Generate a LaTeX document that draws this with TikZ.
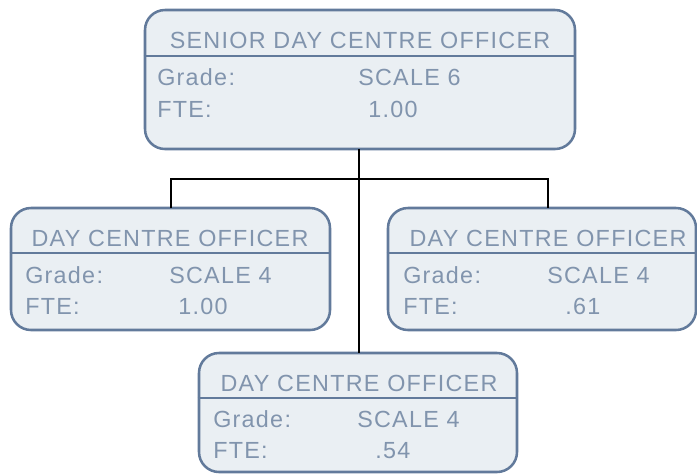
\documentclass[tikz,border=0pt]{standalone}
\usepackage{fontspec}
\usetikzlibrary{fit}
\newfontfamily\boxfont[LetterSpace=5.5]{Liberation Sans}
\definecolor{boxborder}{HTML}{627A9B}
\definecolor{boxfill}{HTML}{EAEFF3}
\definecolor{boxtext}{HTML}{8194AD}
\begin{document}
\begin{tikzpicture}[x=0.75pt,y=-0.75pt,
  box/.style={draw=boxborder, fill=boxfill, line width=1.9pt, rounded corners=15pt, inner sep=0pt},
  divider/.style={draw=boxborder, line width=1.9pt},
  txt/.style={text=boxtext, font=\boxfont\fontsize{17.5pt}{20pt}\selectfont, inner sep=0pt},
  conn/.style={draw=black, line width=1.9pt}]
\useasboundingbox (0,0) rectangle (697,475);
% boxes
\node[box, fit={(145,10) (575,149)}] (top) {};
\node[box, fit={(11,208) (330,330)}] (lbox) {};
\node[box, fit={(388,208) (696,330)}] (rbox) {};
\node[box, fit={(199,353) (517,472)}] (bbox) {};
% dividers
\draw[divider] (top.west |- 0,56) -- (top.east |- 0,56);
\draw[divider] (lbox.west |- 0,253) -- (lbox.east |- 0,253);
\draw[divider] (rbox.west |- 0,253) -- (rbox.east |- 0,253);
\draw[divider] (bbox.west |- 0,398) -- (bbox.east |- 0,398);
% connectors
\coordinate (j) at (359,179);
\coordinate (ltop) at (171,208);
\coordinate (rtop) at (548,208);
\coordinate (ttop) at (359,149);
\coordinate (btop) at (359,353);
\draw[conn] (ttop) -- (btop);
\draw[conn] (ltop) |- (j) -| (rtop);
% top texts
\node[txt, anchor=base] (t1) at (360,48) {SENIOR DAY CENTRE OFFICER};
\node[txt, anchor=base west] (t2) at (157,85) {Grade:};
\node[txt, anchor=base west] (t3) at (358,85) {SCALE 6};
\node[txt, anchor=base west] (t4) at (157,117) {FTE:};
\node[txt, anchor=base west] (t5) at (368,117) {1.00};
% left texts
\node[txt, anchor=base] (l1) at (170,246) {DAY CENTRE OFFICER};
\node[txt, anchor=base west] (l2) at (25,283) {Grade:};
\node[txt, anchor=base west] (l3) at (169,283) {SCALE 4};
\node[txt, anchor=base west] (l4) at (25,314) {FTE:};
\node[txt, anchor=base west] (l5) at (178,314) {1.00};
% right texts
\node[txt, anchor=base] (r1) at (548,246) {DAY CENTRE OFFICER};
\node[txt, anchor=base west] (r2) at (403,283) {Grade:};
\node[txt, anchor=base west] (r3) at (547,283) {SCALE 4};
\node[txt, anchor=base west] (r4) at (403,314) {FTE:};
\node[txt, anchor=base west] (r5) at (565,314) {.61};
% bottom texts
\node[txt, anchor=base] (b1) at (359,391) {DAY CENTRE OFFICER};
\node[txt, anchor=base west] (b2) at (213,427) {Grade:};
\node[txt, anchor=base west] (b3) at (357,427) {SCALE 4};
\node[txt, anchor=base west] (b4) at (213,458) {FTE:};
\node[txt, anchor=base west] (b5) at (375,458) {.54};
\end{tikzpicture}
\end{document}
